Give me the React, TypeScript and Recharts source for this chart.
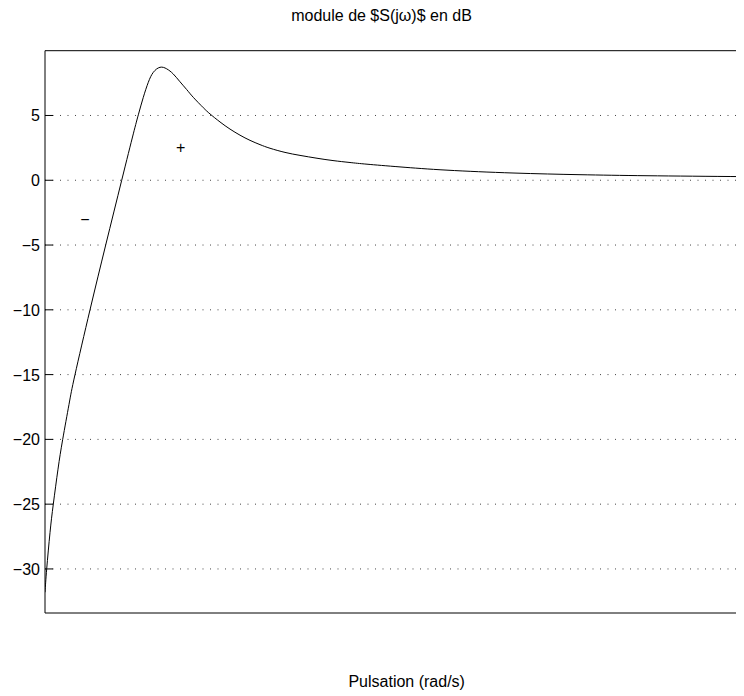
import React from 'react';
import { LineChart, Line, XAxis, YAxis, CartesianGrid, ReferenceLine, ReferenceDot } from 'recharts';

const omega = [0, 0.017, 0.05, 0.083, 0.13, 0.177, 0.24, 0.3, 0.45, 0.607, 0.767, 0.883, 0.935, 0.983, 1.033, 1.083, 1.15, 1.217, 1.283, 1.35, 1.417, 1.483, 1.583, 1.65, 1.75, 1.85, 1.95, 2.05, 2.15, 2.25, 2.4, 2.55, 2.72, 2.88, 3.05, 3.22, 3.55, 4.02, 4.68, 5.35, 6.02, 6.99];
const moduleDb = [-31.8, -30, -27.2, -25, -22.3, -20, -17.3, -15, -10, -5, 0, 3.58, 5.1, 6.4, 7.56, 8.33, 8.72, 8.6, 8.2, 7.6, 7.0, 6.4, 5.6, 5.12, 4.5, 3.95, 3.48, 3.08, 2.75, 2.47, 2.15, 1.92, 1.7, 1.52, 1.37, 1.24, 1.03, 0.78, 0.56, 0.43, 0.35, 0.28];
const yTicks = [5, 0, -5, -10, -15, -20, -25, -30];
const yDomain = [-33.4, 10];
const xDomain = [0, 6.99];
const tickLen = 0.08;
const titleText = 'module de $S(jω)$ en dB';
const xLabelText = 'Pulsation (rad/s)';
const annotations = [
  { x: 1.357, y: 2.5, text: '+' },
  { x: 0.4, y: -3.0, text: '\u2212' },
];

const data = omega.map((w, i) => ({ w, db: moduleDb[i] }));

const FONT = '"Liberation Sans", Arial, Helvetica, sans-serif';

const fmt = (v: number) => (v < 0 ? '\u2212' + Math.abs(v) : String(v));

const YTick = (props: any) => {
  const { x, y, payload } = props;
  return (
    <text x={x} y={y} dy={6} textAnchor="end" fontFamily={FONT} fontSize={16} fill="#000">
      {fmt(payload.value)}
    </text>
  );
};

const AnnLabel = (text: string) => (props: any) => {
  const { viewBox } = props;
  const cx = viewBox.x + (viewBox.width || 0) / 2;
  const cy = viewBox.y + (viewBox.height || 0) / 2;
  return (
    <text x={cx} y={cy} dy={5.5} textAnchor="middle" fontFamily={FONT} fontSize={16} fill="#000">
      {text}
    </text>
  );
};

export default function App() {
  return (
    <div style={{ position: 'relative', width: 736, height: 688 }}>
      <LineChart
        width={736}
        height={688}
        data={data}
        margin={{ top: 42.7, right: 0, bottom: 83, left: 0 }}
      >
        <CartesianGrid
          horizontal={true}
          vertical={false}
          stroke="#444"
          strokeDasharray="1 6.5"
          horizontalValues={yTicks}
        />
        <XAxis
          dataKey="w"
          type="number"
          domain={xDomain}
          allowDataOverflow
          height={0}
          tick={false}
          tickLine={false}
          axisLine={false}
        />
        <YAxis
          type="number"
          domain={yDomain}
          allowDataOverflow
          ticks={yTicks}
          interval={0}
          width={37}
          tickSize={0}
          tickMargin={5}
          tickLine={false}
          tick={<YTick />}
          axisLine={{ stroke: '#000', strokeWidth: 1 }}
        />
        <ReferenceLine y={yDomain[1]} stroke="#000" strokeWidth={1} />
        <ReferenceLine y={yDomain[0]} stroke="#000" strokeWidth={1} />
        {yTicks.map((t) => (
          <ReferenceLine
            key={'t' + t}
            segment={[{ x: xDomain[0], y: t }, { x: xDomain[0] + tickLen, y: t }]}
            stroke="#000"
            strokeWidth={1}
          />
        ))}
        {annotations.map((a, i) => (
          <ReferenceDot
            key={i}
            x={a.x}
            y={a.y}
            r={0}
            fill="none"
            stroke="none"
            label={AnnLabel(a.text)}
          />
        ))}
        <Line
          type="natural"
          dataKey="db"
          stroke="#000"
          strokeWidth={1}
          dot={false}
          isAnimationActive={false}
        />
      </LineChart>
      <svg
        width={736}
        height={688}
        style={{ position: 'absolute', left: 0, top: 0, pointerEvents: 'none' }}
      >
        <text x={373.5} y={12.7} textAnchor="middle" fontFamily={FONT} fontSize={16} fill="#000">
          {titleText}
        </text>
        <text x={398.7} y={679} textAnchor="middle" fontFamily={FONT} fontSize={16} fill="#000">
          {xLabelText}
        </text>
      </svg>
    </div>
  );
}
